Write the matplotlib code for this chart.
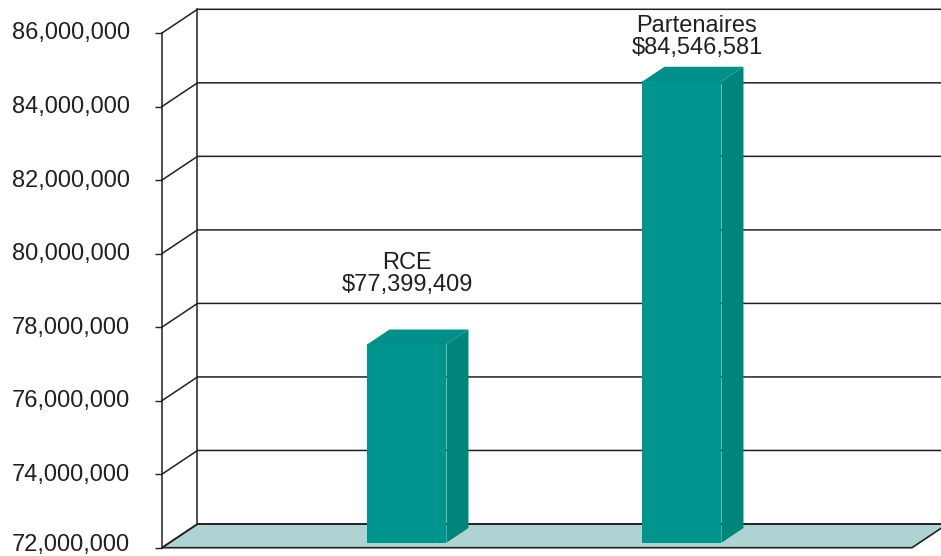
import numpy as np
import matplotlib
matplotlib.use("Agg")
import matplotlib.pyplot as plt
import matplotlib.transforms as mtransforms
from matplotlib.patches import Polygon

# Daten
categories = ["RCE", "Partenaires"]
values = [77399409, 84546581]
label_texts = ["RCE\n$77,399,409", "Partenaires\n$84,546,581"]
yticks = [72000000, 74000000, 76000000, 78000000, 80000000, 82000000, 84000000, 86000000]

plt.rcParams['font.family'] = ['Liberation Sans', 'DejaVu Sans']

W, H = 941, 556
fig = plt.figure(figsize=(W / 100, H / 100), dpi=100)

# Vorderebene in Pixel
x0, x1 = 162, 912
yb, yt = 547.7, 33
ax = fig.add_axes([x0 / W, (H - yb) / H, (x1 - x0) / W, (yb - yt) / H])
ax.set_xlim(-1.3636 + 0.5, 1.3636 + 0.5)
ax.set_ylim(72000000, 86000000)

ux = (ax.get_xlim()[1] - ax.get_xlim()[0]) / (x1 - x0)   # Dateneinheit pro Pixel
uy = (86000000 - 72000000) / (yb - yt)
DX, DY = 35.5, 23.7   # Tiefe der Wand in Pixel

def p(x, y, d):
    # Punkt in der Tiefe d (0 = vorne, 1 = hinten)
    return (x + d * DX * ux, y + d * DY * uy)

ink = '#231f20'
xl, xr = ax.get_xlim()
ymin, ymax = ax.get_ylim()

# Boden
floor = Polygon([p(xl, ymin, 0), p(xr, ymin, 0), p(xr, ymin, 1), p(xl, ymin, 1)],
                closed=True, facecolor='#afd3d3', edgecolor=ink, lw=1.2,
                clip_on=False, zorder=1)
ax.add_patch(floor)

# Gitterlinien hinten und Seitenwand
for t in yticks:
    a = p(xl, t, 0)
    b = p(xl, t, 1)
    c = p(xr + 1, t, 1)
    ax.plot([a[0], b[0], c[0]], [a[1], b[1], c[1]], color=ink, lw=1.1,
            clip_on=False, zorder=2, solid_joinstyle='miter')
bl = p(xl, ymin, 1)
tl = p(xl, ymax, 1)
ax.plot([bl[0], tl[0]], [bl[1], tl[1]], color=ink, lw=1.1, clip_on=False, zorder=2)

# Balken in 3D
bw = 79 * ux
d0, d1 = 0.21, 0.83
front_c, side_c, top_c = '#00948f', '#00857b', '#009089'
for i, v in enumerate(values):
    left = i - bw / 2
    right = i + bw / 2
    front = [p(left, ymin, d0), p(right, ymin, d0), p(right, v, d0), p(left, v, d0)]
    side = [p(right, ymin, d0), p(right, ymin, d1), p(right, v, d1), p(right, v, d0)]
    top = [p(left, v, d0), p(right, v, d0), p(right, v, d1), p(left, v, d1)]
    for pts, col in [(side, side_c), (top, top_c), (front, front_c)]:
        ax.add_patch(Polygon(pts, closed=True, facecolor=col, edgecolor='none',
                             clip_on=False, zorder=3))

# Beschriftungen
label_gap = [34, 8]
label_dx = [0, 15]
for i, v in enumerate(values):
    cx, cy = p(i, v, d0)
    ax.annotate(label_texts[i], xy=(cx, cy + (d1 - d0) * DY * uy),
                xytext=(label_dx[i] * 0.72, label_gap[i] * 0.72),
                textcoords='offset points', ha='center', va='bottom',
                fontsize=17, color=ink, linespacing=1.0, zorder=5,
                annotation_clip=False)

# Achsen
for s in ['top', 'right', 'bottom']:
    ax.spines[s].set_visible(False)
ax.spines['left'].set_color(ink)
ax.spines['left'].set_linewidth(1.1)
ax.set_xticks([])
ax.set_yticks(yticks)
ax.set_yticklabels(["{:,}".format(t) for t in yticks])
ax.tick_params(axis='y', direction='out', length=5, width=1, color=ink,
               labelsize=17, labelcolor=ink, pad=18)
for k, lab in enumerate(ax.get_yticklabels()):
    up = 5 if k == 0 else 2
    shift = mtransforms.ScaledTranslation(0, up / 100, fig.dpi_scale_trans)
    lab.set_transform(lab.get_transform() + shift)
ax.patch.set_alpha(0)

fig.savefig("out.png", dpi=100)
